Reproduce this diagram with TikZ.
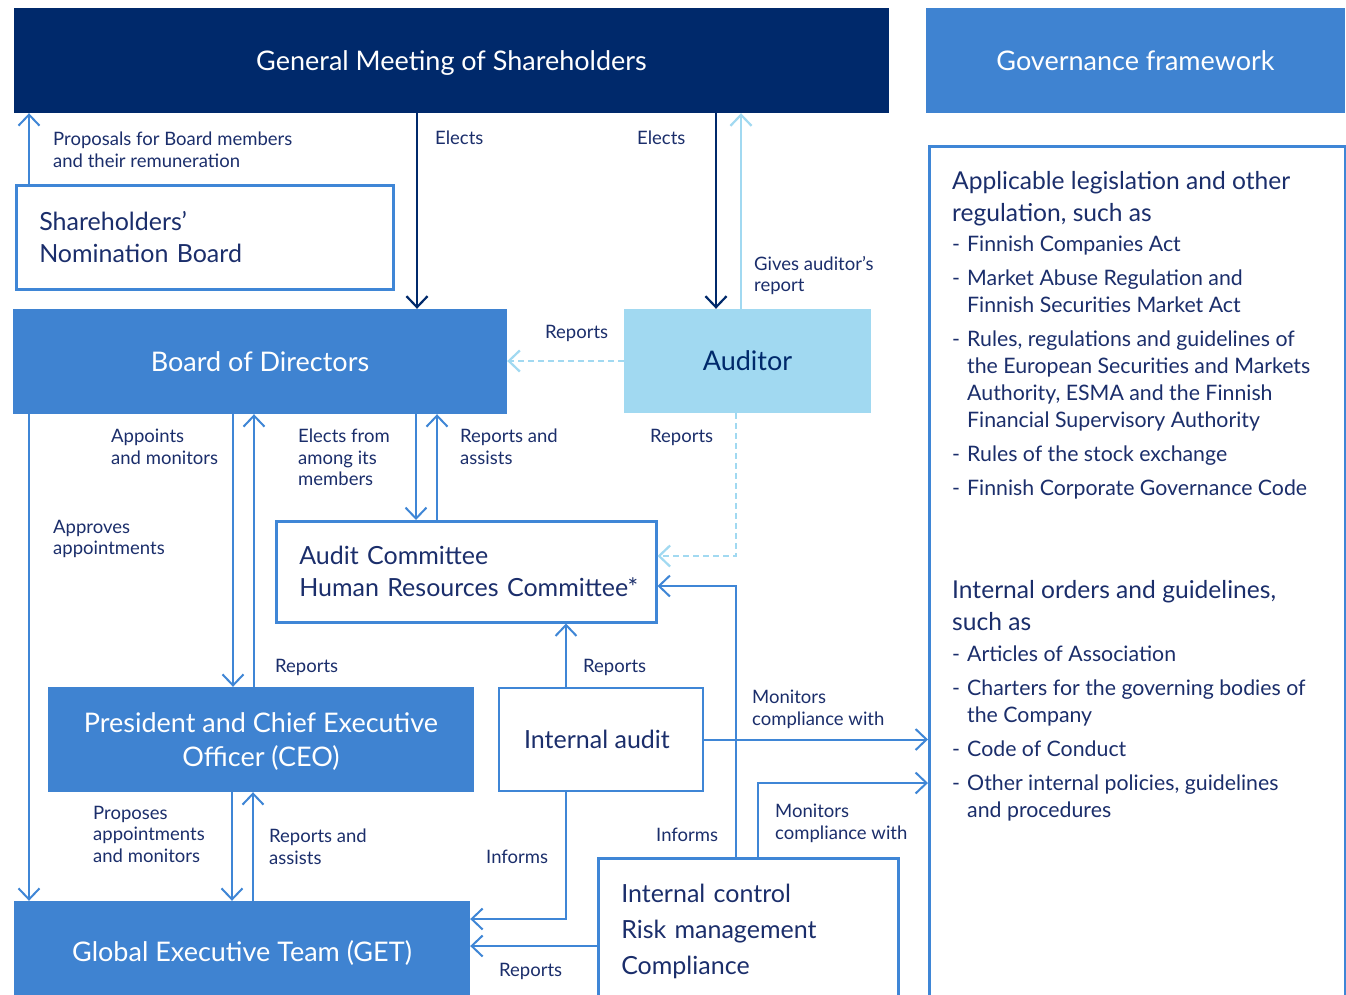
\documentclass[tikz,border=0pt]{standalone}
\usepackage{fontspec}
\setmainfont{Lato}
\usetikzlibrary{arrows.meta,calc}
\definecolor{navy}{HTML}{00296B}
\definecolor{mblue}{HTML}{3F83D1}
\definecolor{lblue}{HTML}{A1D9F1}
\definecolor{lineb}{HTML}{3F86D6}
\definecolor{txt}{HTML}{1B2E6B}
\tikzset{
  filled/.style={fill=#1, draw=none, inner sep=0pt, text=white, align=center, text depth=0pt},
  outl/.style={draw=lineb, line width=2.5pt, fill=white, inner sep=0pt, text=txt},
  lbl/.style={anchor=north west, inner sep=0pt, text=txt, align=left, font=\fontsize{18.5}{21.5}\selectfont},
  barb/.style={-{Straight Barb[length=11pt,width=21pt]}},
  arr/.style={draw=lineb, line width=2pt, barb},
  navyarr/.style={draw=navy, line width=2.2pt, barb},
  ltarr/.style={draw=lblue, line width=2.2pt, barb},
  dasharr/.style={draw=lblue, line width=2.2pt, dash pattern=on 6pt off 4pt, barb},
  rptxt/.style={anchor=north west, inner sep=0pt, text=txt, align=left},
}
\newcommand{\dsh}{\vphantom{Fh}-}
\begin{document}
\begin{tikzpicture}[x=1pt,y=-1pt]
\clip (0,0) rectangle (1346,994);
\fill[white] (0,0) rectangle (1346,994);
% x and y guide coordinates
\foreach \xx in {29,232,233,253,254,416,417,437,566,716,736,741,758}{\coordinate (x\xx) at (\xx,0);}
\foreach \yy in {556,586,783,919,946}{\coordinate (y\yy) at (0,\yy);}

% ---- main boxes
\node[filled=navy, minimum width=875pt, minimum height=105pt, font=\fontsize{27}{31}\selectfont] (gms) at (451.5,60.5) {General Meeting of Shareholders};
\node[filled=mblue, minimum width=419pt, minimum height=105pt, font=\fontsize{27}{31}\selectfont] (gf) at (1135.5,60.5) {Governance framework};
\node[outl, anchor=north west, minimum width=377pt, minimum height=104pt, text width=331pt, inner xsep=23pt, align=left, font=\fontsize{25}{32}\selectfont] (nb) at (15,184) {Shareholders’\\Nomination Board};
\node[filled=mblue, minimum width=494pt, minimum height=105pt, font=\fontsize{27}{31}\selectfont] (bod) at (260,361.5) {Board of Directors};
\node[filled=lblue, text=navy, minimum width=247pt, minimum height=104pt, font=\fontsize{27}{31}\selectfont] (aud) at (747.5,361) {Auditor};
\node[outl, anchor=north west, minimum width=380pt, minimum height=101pt, text width=334pt, inner xsep=23pt, align=left, font=\fontsize{25}{32}\selectfont] (com) at (275,520) {Audit Committee\\\mbox{Human Resources Committee*}};
\node[filled=mblue, minimum width=426pt, minimum height=105pt, font=\fontsize{27}{34}\selectfont] (ceo) at (261,739.5) {President and Chief Executive\\Officer (CEO)};
\node[outl, minimum width=204pt, minimum height=103pt, text depth=0pt, font=\fontsize{25}{30}\selectfont] (ia) at (601,739.5) {Internal audit\hspace*{8pt}};
\node[filled=mblue, minimum width=456pt, minimum height=100pt, font=\fontsize{27}{31}\selectfont] (get) at (242,951) {Global Executive Team (GET)};
\node[outl, anchor=north west, minimum width=300pt, minimum height=146pt, text width=254pt, inner xsep=23pt, align=left, font=\fontsize{25}{36}\selectfont] (ic) at (597,857) {Internal control\\Risk management\\Compliance};
\node[outl, fill=none, anchor=north west, minimum width=416pt, minimum height=880pt] (rp) at (928,145) {};

% ---- right panel text
\node[rptxt, font=\fontsize{24.6}{32}\selectfont] (h1) at (952,171) {Applicable legislation and other\\regulation, such as};
\begin{scope}[font=\fontsize{21.3}{27}\selectfont]
\node[rptxt] (d1) at (952,236) {\dsh};
\node[rptxt] (b1) at (967,236) {Finnish Companies Act};
\node[rptxt] (d2) at (952,270) {\dsh};
\node[rptxt] (b2) at (967,270) {Market Abuse Regulation and\\Finnish Securities Market Act};
\node[rptxt] (d3) at (952,331) {\dsh};
\node[rptxt] (b3) at (967,331) {Rules, regulations and guidelines of\\the European Securities and Markets\\Authority, ESMA and the Finnish\\Financial Supervisory Authority};
\node[rptxt] (d4) at (952,446) {\dsh};
\node[rptxt] (b4) at (967,446) {Rules of the stock exchange};
\node[rptxt] (d5) at (952,480) {\dsh};
\node[rptxt] (b5) at (967,480) {Finnish Corporate Governance Code};
\end{scope}
\node[rptxt, font=\fontsize{24.6}{32}\selectfont] (h2) at (952,580) {Internal orders and guidelines,\\such as};
\begin{scope}[font=\fontsize{21.3}{27}\selectfont]
\node[rptxt] (e1) at (952,646) {\dsh};
\node[rptxt] (c1) at (967,646) {Articles of Association};
\node[rptxt] (e2) at (952,680) {\dsh};
\node[rptxt] (c2) at (967,680) {Charters for the governing bodies of\\the Company};
\node[rptxt] (e3) at (952,741) {\dsh};
\node[rptxt] (c3) at (967,741) {Code of Conduct};
\node[rptxt] (e4) at (952,775) {\dsh};
\node[rptxt] (c4) at (967,775) {Other internal policies, guidelines\\and procedures};
\end{scope}

% ---- connectors
\draw[arr] (nb.north -| x29) -- (gms.south -| x29);
\draw[navyarr] (gms.south -| x417) -- (bod.north -| x417);
\draw[navyarr] (gms.south -| x716) -- (aud.north -| x716);
\draw[ltarr] (aud.north -| x741) -- (gms.south -| x741);
\draw[dasharr] (aud.west) -- (aud.west -| bod.east);
\draw[dasharr] (aud.south -| x736) |- (com.east |- y556);
\draw[arr] (bod.south -| x416) -- (com.north -| x416);
\draw[arr] (com.north -| x437) -- (bod.south -| x437);
\draw[arr] (bod.south -| x233) -- (ceo.north -| x233);
\draw[arr] (ceo.north -| x254) -- (bod.south -| x254);
\draw[arr] (bod.south -| x29) -- (get.north -| x29);
\draw[arr] (ceo.south -| x232) -- (get.north -| x232);
\draw[arr] (get.north -| x253) -- (ceo.south -| x253);
\draw[arr] (ia.north -| x566) -- (com.south -| x566);
\draw[arr] (ia.east) -- (ia.east -| rp.west);
\draw[arr] (ia.south -| x566) |- (get.east |- y919);
\draw[arr] (ic.north -| x736) |- (com.east |- y586);
\draw[arr] (ic.north -| x758) |- (rp.west |- y783);
\draw[arr] (ic.west |- y946) -- (get.east |- y946);

% ---- labels
\node[lbl] (lprop) at (53,132) {Proposals for Board members\\and their remuneration};
\node[lbl] (lel1) at (435,131) {Elects};
\node[lbl] (lel2) at (637,131) {Elects};
\node[lbl] (lgar) at (754,256) {Gives auditor’s\\report};
\node[lbl] (lrep1) at (545,325) {Reports};
\node[lbl] (lapm) at (111,429) {Appoints\\and monitors};
\node[lbl] (lefm) at (298,429) {Elects from\\among its\\members};
\node[lbl] (lrna1) at (460,429) {Reports and\\assists};
\node[lbl] (lrep2) at (650,429) {Reports};
\node[lbl] (lappr) at (53,520) {Approves\\appointments};
\node[lbl] (lrep3) at (275,659) {Reports};
\node[lbl] (lrep4) at (583,659) {Reports};
\node[lbl] (lmcw1) at (752,690) {Monitors\\compliance with};
\node[lbl] (lmcw2) at (775,804) {Monitors\\compliance with};
\node[lbl] (lpam) at (93,806) {Proposes\\appointments\\and monitors};
\node[lbl] (lrna2) at (269,829) {Reports and\\assists};
\node[lbl] (linf1) at (656,828) {Informs};
\node[lbl] (linf2) at (486,850) {Informs};
\node[lbl] (lrep5) at (499,963) {Reports};
\end{tikzpicture}
\end{document}
